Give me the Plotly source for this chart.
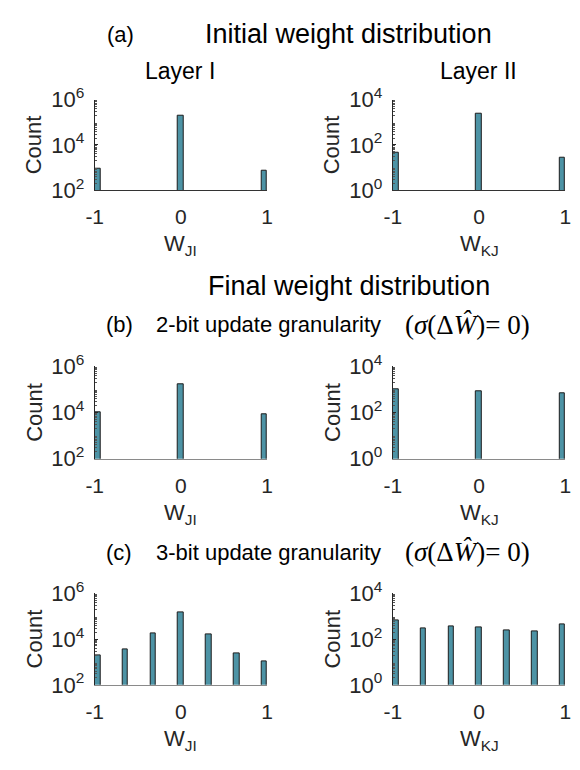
import numpy as np
import plotly.graph_objects as go

# ---------------- data ----------------
levels_ternary = [-1, 0, 1]
levels_3bit = [-1, -2/3, -1/3, 0, 1/3, 2/3, 1]

init_layer1 = [870, 195000, 760]
init_layer2 = [45, 2450, 28]
b_layer1 = [10300, 160000, 8000]
b_layer2 = [1050, 810, 645]
c_layer1 = [1950, 3500, 18000, 144000, 15500, 2400, 1100]
c_layer2 = [630, 295, 372, 310, 252, 208, 455]

x_ticks = [-1, 0, 1]
x_ticktext = ["-1", "0", "1"]
n_bins = 31

W, H = 580, 770
FONT = "Liberation Sans, Arial, sans-serif"
SERIF = "Liberation Serif, DejaVu Serif, serif"
BAR_FILL = "#4d93a5"
BAR_LINE = "#1c1c1c"

col_px = [(88, 265), (394, 571)]
row_px = [(87, 181), (364, 460), (600, 695)]

def px_x(x):
    return x / W

def px_y(y):
    return 1 - y / H

panels = [
    (0, 0, levels_ternary, init_layer1, 2, "W<sub>JI</sub>", "#333333"),
    (0, 1, levels_ternary, init_layer2, 0, "W<sub>KJ</sub>", "#333333"),
    (1, 0, levels_ternary, b_layer1, 2, "W<sub>JI</sub>", "#8a8a8a"),
    (1, 1, levels_ternary, b_layer2, 0, "W<sub>KJ</sub>", "#8a8a8a"),
    (2, 0, levels_3bit, c_layer1, 2, "W<sub>JI</sub>", "#8a8a8a"),
    (2, 1, levels_3bit, c_layer2, 0, "W<sub>KJ</sub>", "#8a8a8a"),
]

fig = go.Figure()
annotations = []
layout_axes = {}

for i, (r, c, lv, cnt, ymin_exp, xlabel, xline) in enumerate(panels):
    idx = i + 1
    xa = "x" if idx == 1 else f"x{idx}"
    ya = "y" if idx == 1 else f"y{idx}"
    xkey = "xaxis" if idx == 1 else f"xaxis{idx}"
    ykey = "yaxis" if idx == 1 else f"yaxis{idx}"

    hist, edges = np.histogram(lv, bins=n_bins, range=(-1, 1), weights=cnt)
    centers = (edges[:-1] + edges[1:]) / 2
    binw = edges[1] - edges[0]
    mask = hist > 0
    fig.add_trace(go.Bar(
        x=centers[mask], y=hist[mask], width=binw,
        marker=dict(color=BAR_FILL, line=dict(color=BAR_LINE, width=1)),
        xaxis=xa, yaxis=ya, showlegend=False,
    ))

    x0, x1 = col_px[c]
    y0, y1 = row_px[r]
    layout_axes[xkey] = dict(
        domain=[px_x(x0), px_x(x1)], anchor=ya, range=[-1, 1],
        tickvals=x_ticks, ticktext=x_ticktext, ticks="",
        showline=True, linecolor=xline, linewidth=1, showgrid=False,
        zeroline=False, tickfont=dict(family=FONT, size=21, color="#262626"),
        ticklabelstandoff=8,
    )
    yt = [10 ** (ymin_exp + k) for k in (0, 2, 4)]
    ytt = [f"10<sup>{ymin_exp + k}</sup>" for k in (0, 2, 4)]
    minor_vals = [m * 10 ** (ymin_exp + d) for d in range(4) for m in range(2, 10)]
    layout_axes[ykey] = dict(
        domain=[px_y(y1), px_y(y0)], anchor=xa, type="log",
        range=[ymin_exp, ymin_exp + 4], tickvals=yt, ticktext=ytt,
        ticks="inside", ticklen=3, tickcolor="#262626",
        minor=dict(tickmode="array", tickvals=minor_vals, ticks="inside", ticklen=2,
                   tickcolor="#555555", tickwidth=1, showgrid=False),
        showline=True, linecolor="#262626", linewidth=1, showgrid=False,
        zeroline=False, tickfont=dict(family=FONT, size=22, color="#262626"),
        ticklabelstandoff=5,
    )
    annotations.append(dict(
        text="Count", x=px_x(x0 - 62), y=px_y((y0 + y1) / 2), textangle=-90,
        xref="paper", yref="paper", showarrow=False, xanchor="center", yanchor="middle",
        font=dict(family=FONT, size=22, color="#262626"),
    ))
    annotations.append(dict(
        text=xlabel, x=px_x((x0 + x1) / 2), y=px_y(y1 + 57),
        xref="paper", yref="paper", showarrow=False, xanchor="center", yanchor="middle",
        font=dict(family=FONT, size=22, color="#262626"),
    ))

def txt(s, x, y, size, family=FONT, anchor="center"):
    annotations.append(dict(
        text=s, x=px_x(x), y=px_y(y), xref="paper", yref="paper", showarrow=False,
        xanchor=anchor, yanchor="middle", font=dict(family=family, size=size, color="#000000"),
    ))

txt("(a)", 114, 19, 22)
txt("Initial weight distribution", 349, 19, 27)
txt("Layer I", 176, 57, 23)
txt("Layer II", 482, 57, 23)
txt("Final weight distribution", 349, 281, 27)
sigma = "(<i>σ</i>(Δ<i>Ŵ</i>)= 0)"
for lab, mid, yy in [("(b)", "2-bit update granularity", 321), ("(c)", "3-bit update granularity", 557)]:
    txt(lab, 113, yy, 22)
    txt(mid, 149, yy, 22, anchor="left")
    txt(sigma, 404, yy, 27, family=SERIF, anchor="left")

fig.update_layout(
    width=W, height=H, margin=dict(l=0, r=0, t=0, b=0),
    paper_bgcolor="white", plot_bgcolor="white",
    bargap=0, annotations=annotations, **layout_axes,
)
fig.write_html("out.html")
